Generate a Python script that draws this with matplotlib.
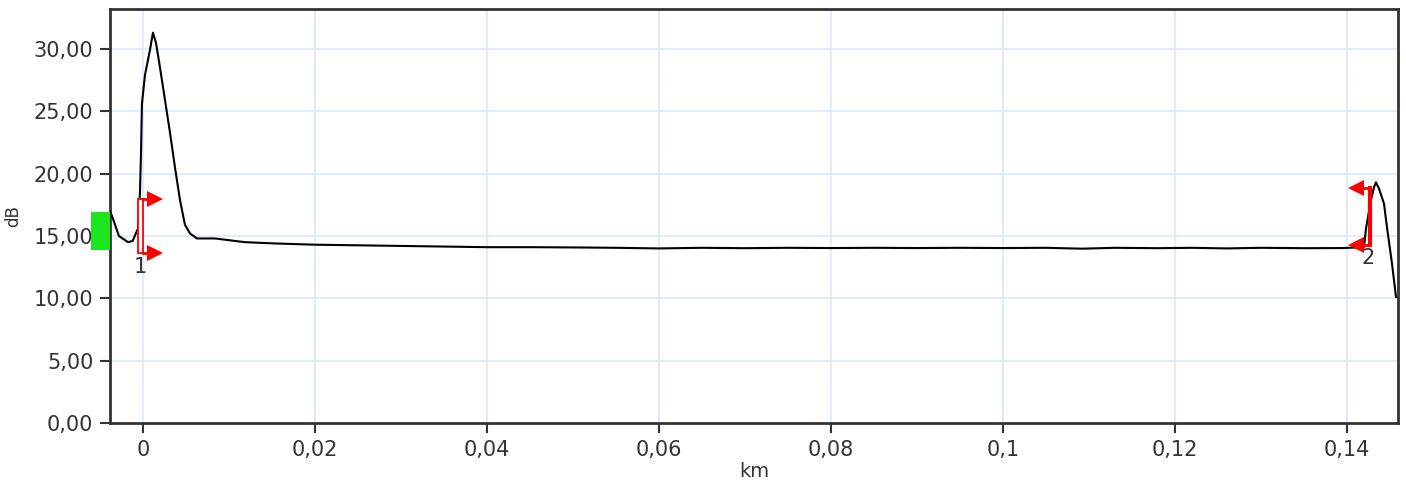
import numpy as np
import matplotlib
matplotlib.use("Agg")
import matplotlib.pyplot as plt
from matplotlib.patches import Rectangle

INK = "#333333"
GRID = "#d3e8fb"
RED = "#ff0000"

# trace: distance (km) vs level (dB)
dist_km = [-0.0038, -0.0036, -0.0028, -0.00174, -0.0012, -0.00058, -0.00035,
           -0.00023, -0.00012, 0.00023, 0.00081, 0.00116, 0.00151, 0.00198,
           0.00256, 0.00314, 0.00372, 0.0043, 0.00488, 0.00547, 0.00628,
           0.00837, 0.0107, 0.0119, 0.0153, 0.02, 0.025, 0.03, 0.035, 0.04,
           0.045, 0.05, 0.055, 0.06, 0.065, 0.07, 0.075, 0.08, 0.085, 0.09,
           0.095, 0.1, 0.105, 0.1092, 0.113, 0.118, 0.122, 0.126, 0.13, 0.135,
           0.1395, 0.14198, 0.14221, 0.14279, 0.14314, 0.14337, 0.14372,
           0.1443, 0.14465, 0.14523, 0.1457]
level_db = [16.9, 16.6, 15.0, 14.5, 14.6, 15.6, 18.5,
            21.6, 25.6, 27.9, 29.9, 31.3, 30.5, 28.5,
            25.9, 23.3, 20.5, 17.9, 15.9, 15.2, 14.8,
            14.8, 14.6, 14.5, 14.4, 14.3, 14.25, 14.2, 14.15, 14.1,
            14.1, 14.08, 14.05, 14.0, 14.05, 14.02, 14.05, 14.03, 14.05, 14.03,
            14.05, 14.03, 14.05, 13.98, 14.05, 14.02, 14.05, 14.0, 14.05, 14.02,
            14.03, 14.1, 15.6, 17.9, 18.9, 19.3, 18.8,
            17.6, 15.7, 12.8, 10.1]

x_ticks = [0, 0.02, 0.04, 0.06, 0.08, 0.1, 0.12, 0.14]
x_labels = ["0", "0,02", "0,04", "0,06", "0,08", "0,1", "0,12", "0,14"]
y_ticks = [0, 5, 10, 15, 20, 25, 30]
y_labels = ["0,00", "5,00", "10,00", "15,00", "20,00", "25,00", "30,00"]

# event markers: bracket x-range, top / bottom level, label position
m1_x = [-0.00058, 0.0]
m1_y = [18.0, 13.6]
m1_tip = 0.00175
m2_x = 0.14267
m2_y = [18.85, 14.3]
m2_tip = 0.1406
marker_labels = [("1", -0.0003, 12.5), ("2", 0.1425, 13.2)]

# launch block (green)
launch_x = [-0.00605, -0.00384]
launch_y = [13.9, 16.9]

plt.rcParams["font.family"] = ["DejaVu Sans"]
fig = plt.figure(figsize=(14.06, 4.87), dpi=100, facecolor="white")
ax = fig.add_axes([0.0782, 0.1314, 0.9161, 0.8501])

ax.set_xlim(-0.00384, 0.14593)
ax.set_ylim(0, 33.2)
ax.set_xticks(x_ticks)
ax.set_xticklabels(x_labels)
ax.set_yticks(y_ticks)
ax.set_yticklabels(y_labels)
ax.grid(True, color=GRID, linewidth=1.1)
ax.set_axisbelow(True)
for s in ax.spines.values():
    s.set_color(INK)
    s.set_linewidth(2)
ax.tick_params(colors=INK, labelsize=15, length=7, width=1.5, pad=5)
ax.set_xlabel("km", fontsize=14, color=INK, labelpad=2)
ax.set_ylabel("dB", fontsize=12, color=INK, labelpad=8)

ax.add_patch(Rectangle((launch_x[0], launch_y[0]), launch_x[1] - launch_x[0],
                       launch_y[1] - launch_y[0], facecolor="#1ee61e",
                       edgecolor="none", clip_on=False, zorder=3))

ax.plot(dist_km, level_db, color="black", linewidth=1.5, zorder=4)

# marker 1: open bracket with right-pointing arrows
ax.add_patch(Rectangle((m1_x[0], m1_y[1]), m1_x[1] - m1_x[0], m1_y[0] - m1_y[1],
                       facecolor="white", edgecolor=RED, linewidth=1.3, zorder=5))
for y in m1_y:
    ax.plot([m1_x[1], m1_tip - 0.0005], [y, y], color=RED, linewidth=2, zorder=5)
    ax.plot([m1_tip - 0.0004], [y], marker=">", markersize=11, color=RED,
            markeredgewidth=0, zorder=5)

# marker 2: line with left-pointing arrows
ax.plot([m2_x, m2_x], m2_y, color=RED, linewidth=3, zorder=5)
for y in m2_y:
    ax.plot([m2_tip + 0.0005, m2_x], [y, y], color=RED, linewidth=2, zorder=5)
    ax.plot([m2_tip + 0.0004], [y], marker="<", markersize=11, color=RED,
            markeredgewidth=0, zorder=5)

for txt, x, y in marker_labels:
    ax.text(x, y, txt, fontsize=15, color=INK, ha="center", va="center", zorder=6)

fig.savefig("out.png", dpi=100, facecolor="white")
